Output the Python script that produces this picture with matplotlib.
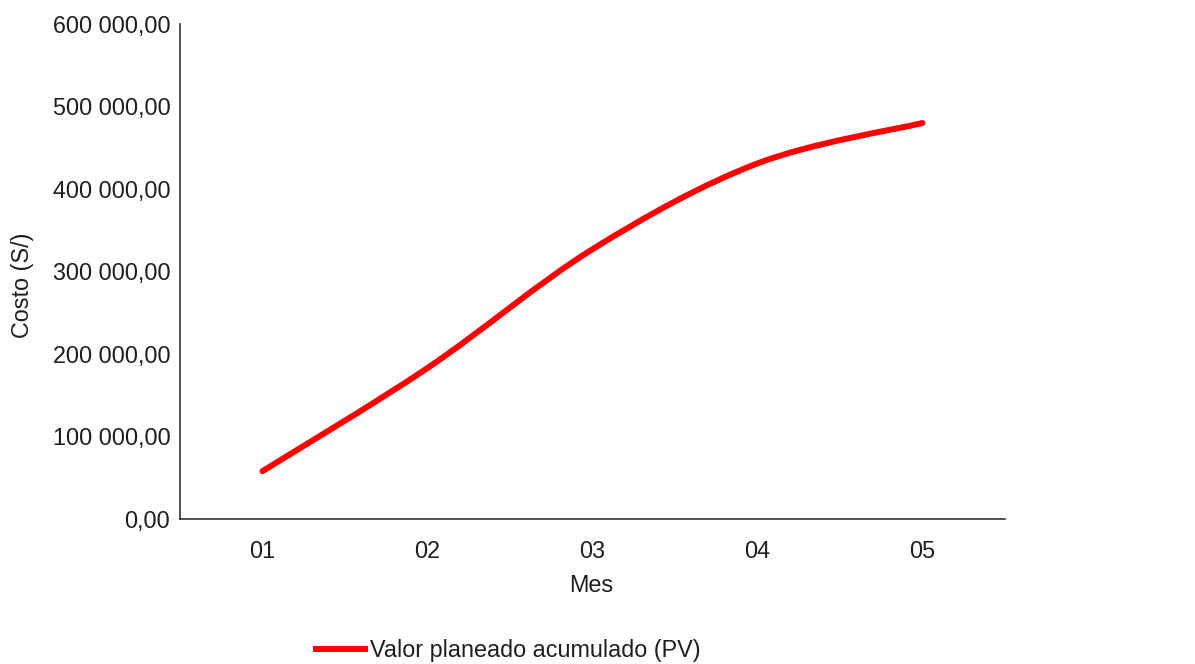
import matplotlib
matplotlib.use("Agg")
import matplotlib.pyplot as plt
from matplotlib.path import Path
from matplotlib.patches import PathPatch
from matplotlib.lines import Line2D
from matplotlib.ticker import FuncFormatter

# --- Data ---
MONTHS = ["01", "02", "03", "04", "05"]
PV_VALUES = [58000, 183000, 327000, 431000, 480000]
SERIES_NAME = "Valor planeado acumulado (PV)"
Y_TICKS = [0, 100000, 200000, 300000, 400000, 500000, 600000]

plt.rcParams['font.family'] = ['Liberation Sans', 'DejaVu Sans']
RED = "#FF0000"
FS = 16.8


def fmt_es(v, pos=None):
    s = f"{v:,.2f}"
    return s.replace(",", " ").replace(".", ",")


def smooth_path(xs, ys):
    # Excel style smoothed line: Catmull-Rom converted to cubic Bezier segments
    pts = list(zip(xs, ys))
    verts = [pts[0]]
    codes = [Path.MOVETO]
    n = len(pts)
    for i in range(n - 1):
        p0 = pts[i - 1] if i > 0 else pts[i]
        p1 = pts[i]
        p2 = pts[i + 1]
        p3 = pts[i + 2] if i + 2 < n else pts[i + 1]
        c1 = (p1[0] + (p2[0] - p0[0]) / 6, p1[1] + (p2[1] - p0[1]) / 6)
        c2 = (p2[0] - (p3[0] - p1[0]) / 6, p2[1] - (p3[1] - p1[1]) / 6)
        verts += [c1, c2, p2]
        codes += [Path.CURVE4] * 3
    return Path(verts, codes)


fig = plt.figure(figsize=(11.95, 6.64), dpi=100)
ax = fig.add_axes([180 / 1195, 1 - 519 / 664, 825 / 1195, 495 / 664])

x = list(range(len(MONTHS)))
patch = PathPatch(smooth_path(x, PV_VALUES), facecolor="none", edgecolor=RED,
                  lw=4.3, capstyle="round", joinstyle="round")
ax.add_patch(patch)

ax.set_xlim(-0.5, len(MONTHS) - 0.5)
ax.set_ylim(0, 600000)
ax.set_xticks(x)
ax.set_xticklabels(MONTHS)
ax.set_yticks(Y_TICKS)
ax.yaxis.set_major_formatter(FuncFormatter(fmt_es))
ax.tick_params(axis="both", length=0, labelsize=FS, colors="#1e1e1e")
ax.tick_params(axis="x", pad=15)
ax.tick_params(axis="y", pad=7)

for side in ["top", "right"]:
    ax.spines[side].set_visible(False)
for side in ["left", "bottom"]:
    ax.spines[side].set_color("#333333")
    ax.spines[side].set_linewidth(1.2)

fig.text(591 / 1195, 1 - 585 / 664, "Mes", ha="center", va="center", fontsize=FS, color="#1e1e1e")
fig.text(22 / 1195, 1 - 285 / 664, "Costo (S/)", ha="center", va="center", rotation=90,
         fontsize=FS, color="#1e1e1e")

handle = Line2D([], [], color=RED, lw=4.3)
fig.legend([handle], [SERIES_NAME], loc="center", bbox_to_anchor=(508 / 1195, 1 - 651 / 664),
           frameon=False, fontsize=FS, handlelength=2.1, handletextpad=0.2,
           labelcolor="#1e1e1e")

fig.savefig("out.png", dpi=100, facecolor="white")
plt.close(fig)
